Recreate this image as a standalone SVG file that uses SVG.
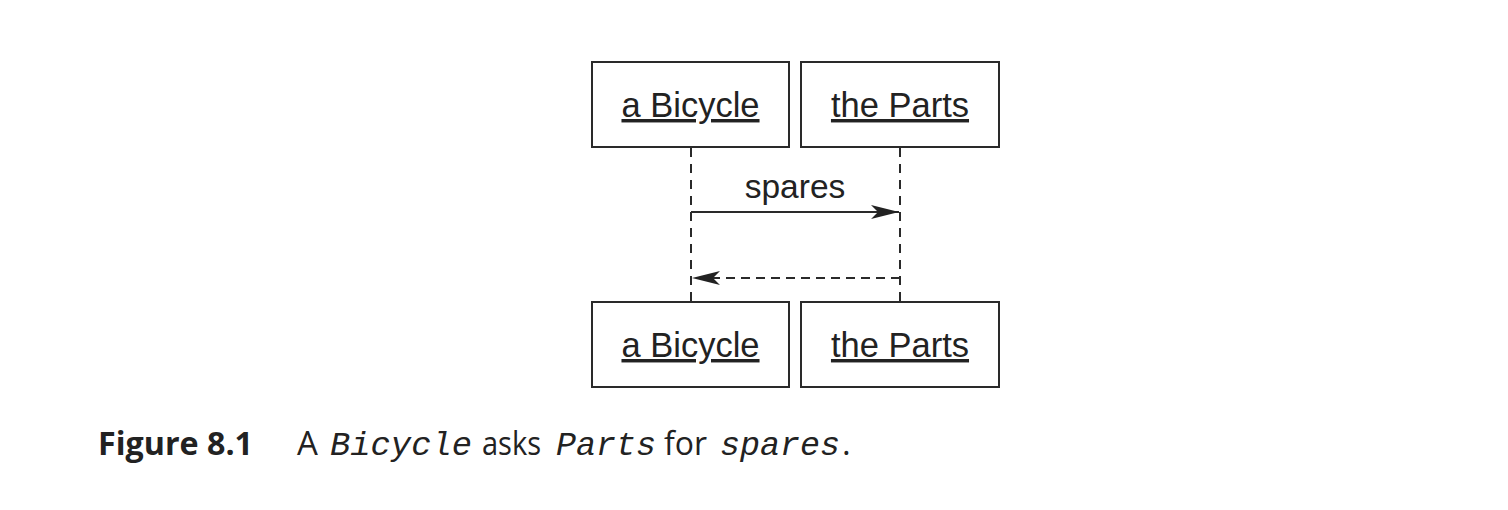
<svg xmlns="http://www.w3.org/2000/svg" width="1508" height="510" viewBox="0 0 1508 510">
<style>
.box{fill:#fff;stroke:#2a2a2a;stroke-width:2}
.lbl{font-family:"Liberation Sans",Arial,sans-serif;font-size:34.5px;fill:#222;text-anchor:middle;text-decoration:underline}
.life{stroke:#2a2a2a;stroke-width:2;stroke-dasharray:9,7;fill:none}
.msg{stroke:#2a2a2a;stroke-width:2;fill:none}
.ret{stroke:#2a2a2a;stroke-width:2;stroke-dasharray:9,6;fill:none}
.mlbl{font-family:"Liberation Sans",Arial,sans-serif;font-size:33.5px;fill:#222;text-anchor:middle}
.cap{font-family:"Open Sans","Liberation Sans",sans-serif;font-size:33px;fill:#222}
.mono{font-family:"Liberation Mono","Courier New",monospace;font-style:italic;font-size:33.5px}
</style>
<defs>
<marker id="ah" markerWidth="30" markerHeight="14" refX="28" refY="7" orient="auto" markerUnits="userSpaceOnUse">
<path d="M0,0 L28,7 L0,14 L7,7 Z" fill="#222"/>
</marker>
</defs>
<rect width="1508" height="510" fill="#fff"/>
<g id="connectors">
<line class="life" x1="691" y1="148" x2="691" y2="302"/>
<line class="life" x1="900" y1="148" x2="900" y2="302"/>
<line class="msg" x1="691" y1="212" x2="899" y2="212" marker-end="url(#ah)"/>
<line class="ret" x1="900" y1="278" x2="692" y2="278" marker-end="url(#ah)"/>
<text class="mlbl" x="795" y="198">spares</text>
</g>
<g id="bicycle-top"><rect class="box" x="592" y="62" width="197" height="85"/><text class="lbl" x="690.5" y="117">a Bicycle</text></g>
<g id="parts-top"><rect class="box" x="801" y="62" width="198" height="85"/><text class="lbl" x="900" y="117">the Parts</text></g>
<g id="bicycle-bottom"><rect class="box" x="592" y="302" width="197" height="85"/><text class="lbl" x="690.5" y="357">a Bicycle</text></g>
<g id="parts-bottom"><rect class="box" x="801" y="302" width="198" height="85"/><text class="lbl" x="900" y="357">the Parts</text></g>
<g id="caption">
<text class="cap" x="98" y="455" font-weight="bold" textLength="155" lengthAdjust="spacingAndGlyphs">Figure 8.1</text>
<text class="cap" x="297" y="455">A</text>
<text class="cap mono" x="330" y="455" textLength="142" lengthAdjust="spacingAndGlyphs">Bicycle</text>
<text class="cap" x="482" y="455" textLength="59" lengthAdjust="spacingAndGlyphs">asks</text>
<text class="cap mono" x="556" y="455" textLength="100" lengthAdjust="spacingAndGlyphs">Parts</text>
<text class="cap" x="664" y="455" textLength="43" lengthAdjust="spacingAndGlyphs">for</text>
<text class="cap mono" x="720" y="455" textLength="120" lengthAdjust="spacingAndGlyphs">spares</text>
<text class="cap" x="842" y="455">.</text>
</g>
</svg>
